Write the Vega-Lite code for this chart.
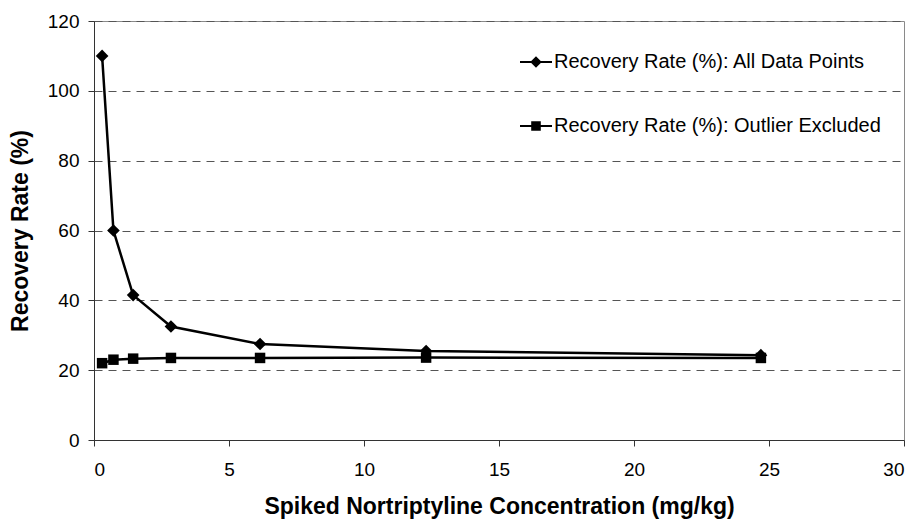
{
  "$schema": "https://vega.github.io/schema/vega-lite/v6.json",
  "width": 810,
  "height": 419,
  "autosize": {"type": "none"},
  "padding": {"left": 94, "top": 21, "right": 16, "bottom": 80},
  "background": "white",
  "config": {
    "font": "Liberation Sans",
    "view": {"stroke": "#8a8a8a", "strokeWidth": 1}
  },
  "data": {
    "values": [
      {"x": 0.3, "y": 110, "series": "Recovery Rate (%): All Data Points"},
      {"x": 0.72, "y": 60, "series": "Recovery Rate (%): All Data Points"},
      {"x": 1.45, "y": 41.5, "series": "Recovery Rate (%): All Data Points"},
      {"x": 2.85, "y": 32.5, "series": "Recovery Rate (%): All Data Points"},
      {"x": 6.15, "y": 27.5, "series": "Recovery Rate (%): All Data Points"},
      {"x": 12.3, "y": 25.5, "series": "Recovery Rate (%): All Data Points"},
      {"x": 24.7, "y": 24.3, "series": "Recovery Rate (%): All Data Points"},
      {"x": 0.3, "y": 22.0, "series": "Recovery Rate (%): Outlier Excluded"},
      {"x": 0.72, "y": 23.0, "series": "Recovery Rate (%): Outlier Excluded"},
      {"x": 1.45, "y": 23.3, "series": "Recovery Rate (%): Outlier Excluded"},
      {"x": 2.85, "y": 23.5, "series": "Recovery Rate (%): Outlier Excluded"},
      {"x": 6.15, "y": 23.5, "series": "Recovery Rate (%): Outlier Excluded"},
      {"x": 12.3, "y": 23.6, "series": "Recovery Rate (%): Outlier Excluded"},
      {"x": 24.7, "y": 23.5, "series": "Recovery Rate (%): Outlier Excluded"}
    ]
  },
  "encoding": {
    "x": {
      "field": "x",
      "type": "quantitative",
      "scale": {"domain": [0, 30], "nice": false},
      "axis": {
        "title": "Spiked Nortriptyline Concentration (mg/kg)",
        "values": [0, 5, 10, 15, 20, 25, 30],
        "grid": false,
        "domainColor": "#333",
        "tickColor": "#333",
        "tickSize": 6,
        "labelFontSize": 19,
        "labelColor": "black",
        "labelPadding": 14,
        "titleFontSize": 23,
        "titleFontWeight": "bold",
        "titleColor": "black",
        "titlePadding": 16
      }
    },
    "y": {
      "field": "y",
      "type": "quantitative",
      "scale": {"domain": [0, 120], "nice": false},
      "axis": {
        "title": "Recovery Rate (%)",
        "values": [0, 20, 40, 60, 80, 100, 120],
        "grid": true,
        "gridColor": "#555",
        "gridDash": [8, 6],
        "gridWidth": 1,
        "domainColor": "#333",
        "tickColor": "#333",
        "tickSize": 6,
        "labelFontSize": 19,
        "labelColor": "black",
        "labelPadding": 9,
        "titleFontSize": 23,
        "titleFontWeight": "bold",
        "titleColor": "black",
        "titlePadding": 15
      }
    }
  },
  "layer": [
    {
      "mark": {"type": "line", "color": "black", "strokeWidth": 2.5},
      "encoding": {"detail": {"field": "series"}}
    },
    {
      "mark": {"type": "point", "filled": true, "color": "black", "opacity": 1},
      "encoding": {
        "shape": {
          "field": "series",
          "type": "nominal",
          "scale": {"range": ["diamond", "square"]},
          "legend": null
        },
        "size": {
          "field": "series",
          "type": "nominal",
          "scale": {"range": [160, 110]},
          "legend": null
        }
      }
    },
    {
      "mark": {"type": "point", "filled": true, "color": "black", "opacity": 0},
      "encoding": {
        "shape": {
          "field": "series",
          "type": "nominal",
          "scale": {
            "range": [
              "M-1,-0.07H1V0.07H-1ZM0,-0.36L0.36,0L0,0.36L-0.36,0Z",
              "M-1,-0.07H1V0.07H-1ZM-0.3,-0.3H0.3V0.3H-0.3Z"
            ]
          },
          "legend": {
            "title": null,
            "orient": "none",
            "legendX": 426,
            "legendY": 25,
            "padding": 0,
            "symbolSize": 1024,
            "symbolStrokeWidth": 0,
            "symbolFillColor": "black",
            "symbolOpacity": 1,
            "labelFontSize": 20,
            "labelColor": "black",
            "labelOffset": 2,
            "labelLimit": 0,
            "rowPadding": 38
          }
        }
      }
    }
  ],
  "resolve": {"scale": {"shape": "independent", "size": "independent"}}
}
